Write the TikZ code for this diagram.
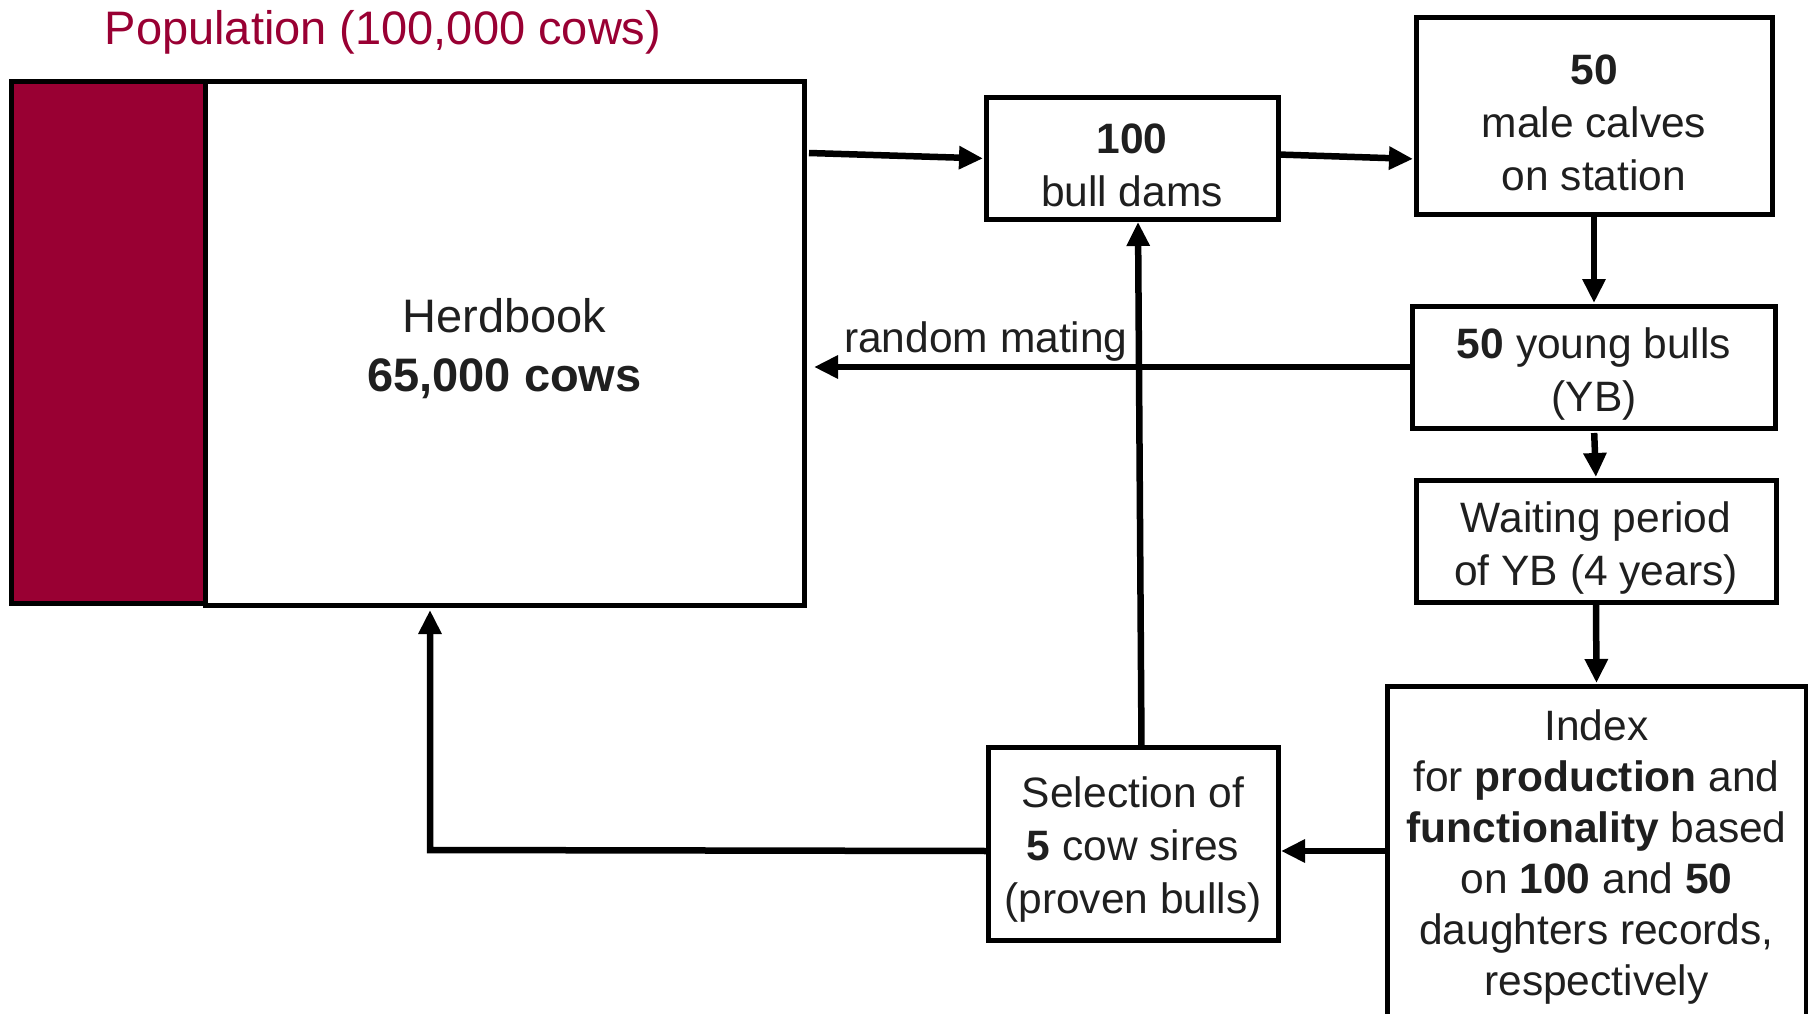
\documentclass[tikz,border=0pt]{standalone}
\usepackage{fontspec}
\setmainfont{Liberation Sans}
\usetikzlibrary{arrows.meta}
\definecolor{wine}{HTML}{990033}
\definecolor{txt}{HTML}{1F1F1F}
\newcommand{\tstrut}[1]{\rule{0pt}{#1pt}}
\begin{document}
\begin{tikzpicture}[x=1pt,y=-1pt,
  box/.style={draw, line width=5pt, fill=white, align=center, inner sep=0pt, outer sep=0pt,
    text=txt, font=\fontsize{42.5}{53}\selectfont},
  arr/.style={line width=6.5pt, -{Triangle[length=24pt,width=22pt]}},
  lbl/.style={text=txt, font=\fontsize{42.5}{53}\selectfont, inner sep=0pt}
]
\useasboundingbox (0,0) rectangle (1808,1014);

% title
\node[text=wine, font=\fontsize{47}{56}\selectfont, inner sep=0pt] (title) at (383,32.5) {Population (100,000 cows)};

% population boxes
\node[draw, line width=5pt, fill=wine, outer sep=0pt, inner sep=0pt,
  minimum width=193.5pt, minimum height=521pt] (pop) at (108.25,342.5) {};
\node[box, minimum width=599pt, minimum height=523pt, font=\fontsize{47}{59}\selectfont] (herd) at (504.5,343.5)
  {\tstrut{43.5}Herdbook\\\textbf{65,000 cows}};

% right-hand boxes
\node[box, minimum width=292pt, minimum height=121pt] (bd) at (1132,158.5) {\tstrut{43}\textbf{100}\\bull dams};
\node[box, minimum width=356pt, minimum height=197pt] (mc) at (1594,116) {\tstrut{43}\textbf{50}\\male calves\\on station};
\node[box, minimum width=363pt, minimum height=122pt] (yb) at (1594,367) {\tstrut{45}\textbf{50} young bulls\\(YB)};
\node[box, minimum width=360pt, minimum height=122pt] (wait) at (1596,541) {\tstrut{45}Waiting period\\of YB (4 years)};
\node[box, draw=none, minimum width=419pt, minimum height=330pt, font=\fontsize{42.5}{51}\selectfont] (idx) at (1596.5,851)
  {\tstrut{42}Index\\for \textbf{production} and\\\textbf{functionality} based\\on \textbf{100} and \textbf{50}\\daughters records,\\respectively};
\draw[line width=5pt] (idx.south west) -- (idx.north west) -- (idx.north east) -- (idx.south east);
\node[box, minimum width=290pt, minimum height=193pt] (sel) at (1133,843.5) {\tstrut{43}Selection of\\\textbf{5} cow sires\\(proven bulls)};

% connectors
\draw[arr, shorten >=3pt] ([xshift=5pt,yshift=-71pt]herd.north east) -- (bd.west);
\draw[arr, shorten <=2pt, shorten >=3pt] ([yshift=4pt]bd.east) -- ([yshift=-43pt]mc.west);
\draw[arr, shorten >=3pt] (mc.south) -- (yb.north);
\draw[arr, shorten >=10pt] (yb.west) -- (yb.west -| herd.east);
\node[lbl, anchor=base west] (rm) at (844,352) {random mating};
\draw[arr, shorten <=5pt, shorten >=3pt] (yb.south) -- (wait.north);
\draw[arr, shorten >=3pt] (wait.south) -- (idx.north);
\draw[arr, shorten >=3pt] (idx.west) -- (idx.west -| sel.east);
\coordinate (turn) at (430,850);
\draw[arr, shorten >=5pt] (idx.west -| sel.west) -- (turn) -- (turn |- herd.south);
\draw[arr, shorten >=3pt] ([xshift=8.5pt]sel.north) -- ([xshift=6pt]bd.south);
\end{tikzpicture}
\end{document}
